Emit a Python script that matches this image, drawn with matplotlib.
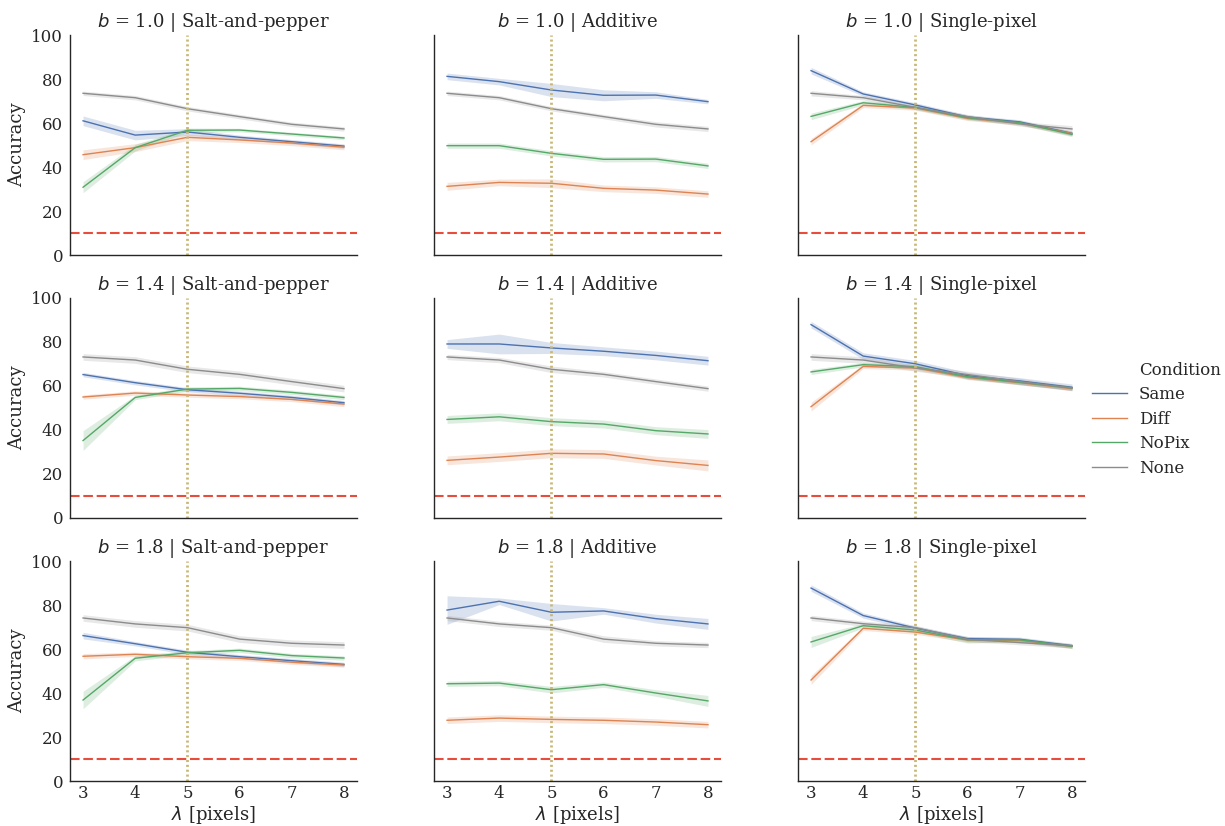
import numpy as np
import matplotlib
matplotlib.use("Agg")
import matplotlib.pyplot as plt
from matplotlib.lines import Line2D

lam = [3, 4, 5, 6, 7, 8]
b_values = ["1.0", "1.4", "1.8"]
noise_types = ["Salt-and-pepper", "Additive", "Single-pixel"]
conditions = ["Same", "Diff", "NoPix", "None"]

# ---- b = 1.0 ----
sp10_same = [61.0, 54.5, 55.9, 53.5, 51.5, 49.5]
sp10_diff = [45.6, 48.8, 53.5, 52.3, 50.9, 49.0]
sp10_nopix = [30.8, 48.8, 56.7, 56.8, 55.0, 53.2]
sp10_none = [73.5, 71.5, 66.5, 62.9, 59.4, 57.3]
ad10_same = [81.2, 78.8, 75.0, 72.6, 72.7, 69.7]
ad10_diff = [31.2, 33.0, 32.6, 30.3, 29.5, 27.7]
ad10_nopix = [49.7, 49.7, 46.2, 43.5, 43.6, 40.5]
ad10_none = [73.5, 71.5, 66.5, 62.9, 59.4, 57.3]
px10_same = [83.8, 73.2, 68.2, 62.7, 60.5, 55.3]
px10_diff = [51.5, 68.0, 66.8, 62.1, 60.0, 55.2]
px10_nopix = [63.0, 69.2, 67.1, 62.4, 60.2, 54.8]
px10_none = [73.5, 71.5, 67.1, 62.9, 59.6, 57.3]

# ---- b = 1.4 ----
sp14_same = [65.2, 61.5, 58.3, 56.7, 54.8, 52.4]
sp14_diff = [55.0, 56.8, 55.9, 55.2, 53.9, 51.8]
sp14_nopix = [35.2, 54.8, 58.6, 58.9, 57.1, 54.8]
sp14_none = [73.2, 71.8, 67.6, 65.3, 62.0, 58.8]
ad14_same = [79.1, 79.1, 77.3, 75.8, 73.9, 71.5]
ad14_diff = [26.2, 27.7, 29.4, 29.1, 26.1, 23.9]
ad14_nopix = [44.8, 46.0, 43.8, 42.7, 39.7, 38.2]
ad14_none = [73.2, 71.8, 67.6, 65.3, 62.0, 58.8]
px14_same = [87.9, 73.6, 70.1, 64.7, 62.3, 59.4]
px14_diff = [50.6, 68.9, 68.2, 63.9, 61.5, 58.8]
px14_nopix = [66.4, 69.7, 68.8, 64.2, 61.7, 59.1]
px14_none = [73.2, 71.8, 68.2, 65.2, 62.0, 59.1]

# ---- b = 1.8 ----
sp18_same = [66.1, 62.4, 58.5, 56.5, 54.7, 53.0]
sp18_diff = [56.7, 57.6, 56.5, 55.8, 54.0, 52.7]
sp18_nopix = [36.8, 55.8, 58.3, 59.4, 57.0, 55.9]
sp18_none = [74.1, 71.4, 69.7, 64.5, 62.6, 61.8]
ad18_same = [77.7, 81.7, 76.7, 77.3, 73.8, 71.4]
ad18_diff = [27.6, 28.6, 28.0, 27.6, 26.8, 25.6]
ad18_nopix = [44.2, 44.5, 41.5, 43.8, 40.0, 36.4]
ad18_none = [74.1, 71.4, 69.7, 64.5, 62.6, 61.8]
px18_same = [87.7, 75.2, 69.5, 64.7, 64.4, 61.5]
px18_diff = [45.9, 69.4, 67.7, 64.1, 63.9, 61.2]
px18_nopix = [63.2, 70.6, 68.6, 64.2, 64.2, 61.2]
px18_none = [74.1, 71.5, 69.7, 64.4, 62.9, 61.5]

# ---- confidence-band half widths ----
sp10_ci = [[2.2, 2.2, 1.5, 1.0, 1.0, 1.0], [2.2, 1.8, 1.5, 1.2, 1.2, 1.2],
           [2.5, 1.5, 1.0, 0.8, 0.8, 0.8], [1.0, 1.0, 1.0, 1.0, 1.0, 1.0]]
ad10_ci = [[1.5, 1.5, 3.0, 2.5, 1.5, 1.0], [1.8, 1.5, 2.0, 1.5, 1.5, 1.5],
           [1.2, 1.2, 1.2, 1.2, 1.2, 1.2], [1.0, 1.0, 1.0, 1.0, 1.2, 1.2]]
px10_ci = [[1.5, 1.0, 1.0, 1.0, 1.0, 1.0], [1.5, 1.0, 1.0, 1.0, 1.0, 1.0],
           [1.5, 1.0, 1.0, 1.0, 1.0, 1.0], [1.2, 1.0, 1.0, 1.0, 1.0, 1.5]]
sp14_ci = [[1.0, 1.0, 1.0, 1.0, 1.0, 1.0], [1.0, 1.0, 1.0, 1.0, 1.0, 1.2],
           [4.5, 1.0, 1.0, 1.0, 1.0, 1.0], [1.5, 1.5, 1.5, 1.5, 1.5, 1.5]]
ad14_ci = [[2.0, 4.5, 2.5, 2.0, 2.0, 2.0], [2.0, 2.0, 2.0, 2.0, 2.0, 2.5],
           [1.8, 1.8, 1.8, 1.8, 1.8, 2.0], [1.2, 1.2, 1.5, 1.2, 1.2, 1.2]]
px14_ci = [[1.5, 1.5, 1.5, 1.5, 1.5, 1.5], [2.0, 1.0, 1.0, 1.0, 1.0, 1.0],
           [1.2, 1.0, 1.0, 1.0, 1.0, 1.0], [1.5, 1.5, 1.5, 1.5, 1.5, 1.0]]
sp18_ci = [[1.5, 1.0, 1.0, 1.0, 1.0, 1.0], [1.2, 1.0, 1.0, 1.0, 1.0, 1.0],
           [4.0, 1.2, 1.0, 1.0, 1.0, 1.0], [1.5, 1.5, 1.5, 1.5, 1.5, 1.5]]
ad18_ci = [[6.5, 1.5, 4.0, 1.5, 2.0, 2.5], [1.5, 1.5, 1.5, 1.5, 1.5, 1.5],
           [1.2, 1.2, 1.5, 1.2, 1.5, 2.5], [1.2, 1.2, 1.2, 1.5, 1.2, 1.2]]
px18_ci = [[1.5, 1.2, 1.0, 1.0, 1.0, 1.0], [2.0, 1.0, 1.0, 1.0, 1.0, 1.0],
           [2.5, 1.0, 1.0, 1.5, 1.0, 1.0], [1.2, 1.2, 1.0, 1.0, 1.0, 1.0]]

chance_level = 10
ref_lambda = 5

panels = [
    [(sp10_same, sp10_diff, sp10_nopix, sp10_none, sp10_ci),
     (ad10_same, ad10_diff, ad10_nopix, ad10_none, ad10_ci),
     (px10_same, px10_diff, px10_nopix, px10_none, px10_ci)],
    [(sp14_same, sp14_diff, sp14_nopix, sp14_none, sp14_ci),
     (ad14_same, ad14_diff, ad14_nopix, ad14_none, ad14_ci),
     (px14_same, px14_diff, px14_nopix, px14_none, px14_ci)],
    [(sp18_same, sp18_diff, sp18_nopix, sp18_none, sp18_ci),
     (ad18_same, ad18_diff, ad18_nopix, ad18_none, ad18_ci),
     (px18_same, px18_diff, px18_nopix, px18_none, px18_ci)],
]

colors = ["#4c72b0", "#dd8452", "#55a868", "#8c8c8c"]
text_color = "#262626"

plt.rcParams["font.family"] = ["DejaVu Serif"]
plt.rcParams["mathtext.fontset"] = "dejavusans"
plt.rcParams["text.color"] = text_color
plt.rcParams["axes.labelcolor"] = text_color
plt.rcParams["xtick.color"] = text_color
plt.rcParams["ytick.color"] = text_color

fig = plt.figure(figsize=(12.25, 8.26), dpi=100)

col_left = [70 / 1225, 434 / 1225, 798 / 1225]
ax_w = 287 / 1225
row_bottom = [1 - 255 / 826, 1 - 518 / 826, 1 - 781 / 826]
ax_h = 220 / 826

x = np.array(lam)
for r in range(3):
    for c in range(3):
        ax = fig.add_axes([col_left[c], row_bottom[r], ax_w, ax_h])
        *series, ci = panels[r][c]
        for k, (vals, col) in enumerate(zip(series, colors)):
            v = np.array(vals)
            h = np.array(ci[k])
            ax.fill_between(x, v - h, v + h, color=col, alpha=0.2, linewidth=0)
            ax.plot(x, v, color=col, linewidth=1.0)
        ax.axhline(chance_level, color="#e74c3c", linestyle=(0, (4.6, 1.8)), linewidth=1.5)
        ax.axvline(ref_lambda, color="#c8b878", linestyle=(0, (0.75, 1.0)), linewidth=2.0)
        ax.set_ylim(0, 100)
        ax.set_xlim(2.75, 8.25)
        ax.set_xticks(lam)
        ax.set_yticks([0, 20, 40, 60, 80, 100])
        for s in ["top", "right"]:
            ax.spines[s].set_visible(False)
        for s in ["left", "bottom"]:
            ax.spines[s].set_color(text_color)
            ax.spines[s].set_linewidth(1.0)
        ax.tick_params(axis="x", length=0, labelsize=12, pad=3)
        ax.tick_params(axis="y", length=0, labelsize=12, pad=5)
        if c != 0:
            ax.set_yticklabels([])
        else:
            ax.set_ylabel("Accuracy", fontsize=13, labelpad=4)
        if r != 2:
            ax.set_xticklabels([])
        else:
            ax.set_xlabel(r"$\lambda$ [pixels]", fontsize=13, labelpad=1)
        ax.set_title(r"$b$ = " + b_values[r] + " | " + noise_types[c], fontsize=13, pad=6)

handles = [Line2D([], [], color="none")]
labels = ["Condition"]
for cond, col in zip(conditions, colors):
    handles.append(Line2D([], [], color=col, linewidth=1.0))
    labels.append(cond)
fig.legend(handles, labels, loc="center left", bbox_to_anchor=(0.886, 0.4927),
           frameon=False, fontsize=12, handlelength=2.1, handletextpad=0.7,
           labelspacing=0.45, borderaxespad=0.0)

fig.savefig("out.png", dpi=100)
